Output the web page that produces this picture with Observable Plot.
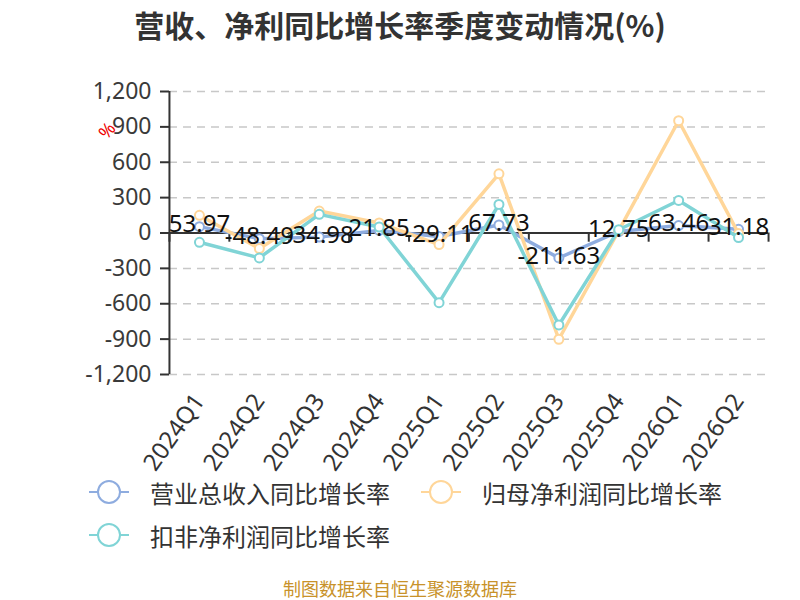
<!DOCTYPE html>
<html><head><meta charset="utf-8">
<script src="https://cdn.jsdelivr.net/npm/d3@7"></script>
<script src="https://cdn.jsdelivr.net/npm/@observablehq/plot@0.6"></script>
<style>
body{margin:0;background:#fff;font-family:"Noto Sans","Noto Sans CJK SC",sans-serif;}
#wrap{position:relative;width:800px;height:600px;overflow:hidden;background:#fff}
#title{position:absolute;left:0;top:0;width:800px;height:48px;line-height:48px;text-align:center;font-size:30px;font-weight:bold;color:#333;font-family:"Noto Sans CJK SC",sans-serif}
#chart{position:absolute;left:0;top:48px}
.leg{position:absolute;display:flex;align-items:center;font-size:24px;color:#333;font-family:"Noto Sans CJK SC",sans-serif;height:30px}
.leg svg{margin-right:21px}
#unit{position:absolute;left:99px;top:118px;color:#e00;font-size:18px;transform:rotate(-50deg);transform-origin:center}
#caption{position:absolute;left:0;top:575px;width:800px;text-align:center;font-size:18px;color:#c8922a;font-family:"Noto Sans CJK SC",sans-serif}
</style></head><body>
<div id="wrap">
<div id="title">营收、净利同比增长率季度变动情况(%)</div>
<div id="chart"></div>
<div id="unit">%</div>
<div id="legend"></div>
<div id="caption">制图数据来自恒生聚源数据库</div>
</div>
<script>
const quarters = ["2024Q1","2024Q2","2024Q3","2024Q4","2025Q1","2025Q2","2025Q3","2025Q4","2026Q1","2026Q2"];
const revenue = [53.97,-48.49,-34.98,21.85,-29.11,67.73,-211.63,12.75,63.46,31.18];
const netProfit = [150,-132,186,85,-98,502,-901,20,952,-5];
const deductedProfit = [-79,-211,158,51,-591,242,-780,28,276,-39];
const yTicks = [-1200,-900,-600,-300,0,300,600,900,1200];
const seriesNames = ["营业总收入同比增长率","归母净利润同比增长率","扣非净利润同比增长率"];
const colors = ["#8eacdf","#ffd699","#80d4d6"];

const seriesValues = [revenue, netProfit, deductedProfit];
const seriesRows = seriesValues.map((vals, si) => vals.map((v, i) => ({q: quarters[i], v, s: seriesNames[si]})));

const seriesMarks = seriesRows.flatMap((rows, si) => [
  Plot.line(rows, {x: "q", y: "v", stroke: colors[si], strokeWidth: 3.5}),
  Plot.dot(rows, {x: "q", y: "v", r: 4.5, fill: "white", stroke: colors[si], strokeWidth: 2})
]);

const chart = Plot.plot({
  width: 800, height: 432,
  marginTop: 43, marginBottom: 106, marginLeft: 169, marginRight: 32,
  style: {fontFamily: '"Noto Sans","Noto Sans CJK SC",sans-serif', background: "white", overflow: "visible"},
  x: {type: "band", domain: quarters, padding: 0, round: false, label: null},
  y: {domain: [-1200, 1200], label: null},
  marks: [
    Plot.gridY(yTicks, {stroke: "#c8c8c8", strokeOpacity: 1, strokeDasharray: "8,6", strokeWidth: 1.5}),
    Plot.axisY(yTicks, {tickFormat: d => d.toLocaleString("en-US"), fontSize: 23, tickSize: 9, tickPadding: 9, stroke: "#333", strokeWidth: 2, fill: "#3a3a3a", label: null}),
    Plot.ruleX([quarters[0]], {dx: -30, stroke: "#333", strokeWidth: 2}),
    Plot.ruleY([0], {stroke: "#333", strokeWidth: 2}),
    Plot.ruleX(quarters, {x: d => d, dx: -30, y1: 0, y2: -78, stroke: "#333", strokeWidth: 2}),
    Plot.ruleX([quarters[quarters.length - 1]], {x: d => d, dx: 30, y1: 0, y2: -78, stroke: "#333", strokeWidth: 2}),
    Plot.axisX({tickRotate: -55, tickSize: 0, tickPadding: 22, fontSize: 24, fill: "#333", label: null}),
    ...seriesMarks,
    Plot.text(seriesRows[0], {x: "q", y: "v", text: d => d.v.toFixed(2), fontSize: 24, fill: "#111", dy: -2})
  ]
});
document.getElementById("chart").appendChild(chart);

const legendPos = [[89, 477], [421, 477], [89, 520]];
const legend = document.getElementById("legend");
seriesNames.forEach((name, i) => {
  const d = document.createElement("div");
  d.className = "leg";
  d.style.left = legendPos[i][0] + "px";
  d.style.top = legendPos[i][1] + "px";
  d.innerHTML = `<svg width="40" height="26"><line x1="0" y1="13" x2="40" y2="13" stroke="${colors[i]}" stroke-width="2"/><circle cx="20" cy="13" r="11" fill="white" stroke="${colors[i]}" stroke-width="2"/></svg><span>${name}</span>`;
  legend.appendChild(d);
});
</script>
</body></html>
